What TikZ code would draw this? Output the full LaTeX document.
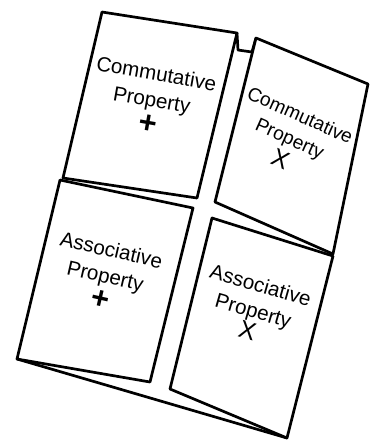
\documentclass[tikz,border=0pt]{standalone}
\usepackage{fontspec}
\setmainfont{Liberation Sans}

\begin{document}
\begin{tikzpicture}[
    x=0.5pt, y=-0.5pt,
    flap/.style={draw, fill=white, line width=1.35pt, line join=round},
    edge/.style={line width=1.35pt, line join=round},
    flaptext/.style={font=\fontsize{10.3}{13.2}\selectfont, align=center, inner sep=0pt}
]
    \useasboundingbox (0,0) rectangle (370,441);

    % back sheet and spine
    \draw[edge] (17,359) -- (287,438);
    \draw[edge] (237,33) -- (238,50) -- (252,52) -- (256,38);

    % the four flaps
    \draw[flap] (102,12) -- (237,33) -- (197,198) -- (63,178) -- cycle;
    \draw[flap] (256,38) -- (368,84) -- (333,254) -- (215,202) -- cycle;
    \draw[flap] (60,180) -- (193,208) -- (150,382) -- (17,359) -- cycle;
    \draw[flap] (212,218) -- (333,256) -- (287,438) -- (170,389) -- cycle;

    \node[flaptext, rotate=-10] (complus) at (152,99.5)
        {Commutative\\Property\\[0pt]{\fontsize{15.5}{15}\selectfont\bfseries +}};
    \node[flaptext, rotate=-24, font=\fontsize{9.6}{12.6}\selectfont] (comtimes) at (290,138)
        {Commutative\\Property\\{\fontsize{12.5}{12}\selectfont X}};
    \node[flaptext, rotate=-13] (assplus) at (105.5,275.5)
        {Associative\\Property\\[0pt]{\fontsize{15.5}{15}\selectfont\bfseries +}};
    \node[flaptext, rotate=-16] (asstimes) at (254,308.5)
        {Associative\\Property\\[-2pt]{\fontsize{12.5}{12}\selectfont X}};
\end{tikzpicture}
\end{document}
